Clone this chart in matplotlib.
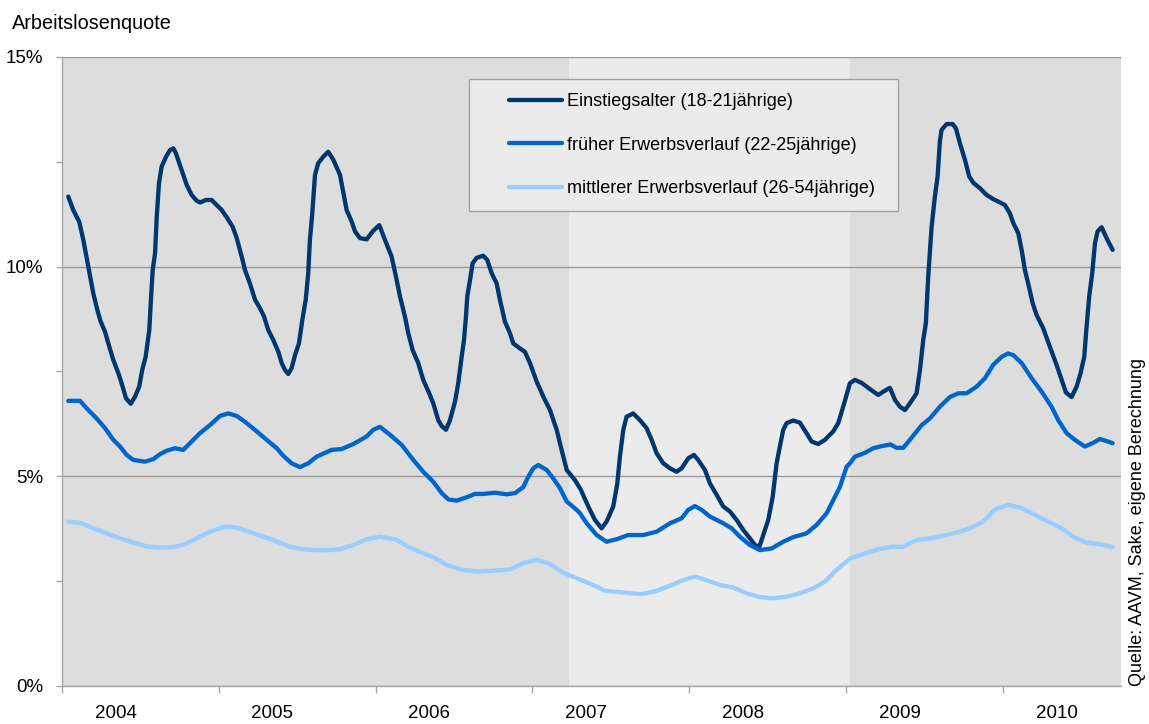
import matplotlib
matplotlib.use('Agg')
import matplotlib.pyplot as plt
from matplotlib.patches import Rectangle

plt.rcParams['font.family'] = ['Liberation Sans', 'DejaVu Sans']

# Zeitachse: Monate seit Januar 2004
jahre = ['2004', '2005', '2006', '2007', '2008', '2009', '2010']

# Einstiegsalter (18-21jährige)
monat_einstieg = [
    0.48, 0.86, 1.32, 1.63, 2.01, 2.39, 2.70, 2.96, 3.29, 3.62, 3.92, 4.31, 4.64, 4.90,
    5.26, 5.59, 5.91, 6.14, 6.40, 6.68, 6.79, 6.94, 7.12, 7.25, 7.42, 7.63, 7.96, 8.26,
    8.52, 8.72, 8.97, 9.28, 9.54, 9.92, 10.31, 10.56, 11.02, 11.45, 11.84, 12.22, 12.60,
    13.06, 13.37, 13.75, 14.00, 14.38, 14.77, 15.15, 15.46, 15.78, 16.17, 16.55, 16.81,
    17.06, 17.31, 17.57, 17.83, 18.13, 18.39, 18.65, 18.84, 18.97, 19.15, 19.36, 19.61,
    19.99, 20.37, 20.76, 21.27, 21.78, 22.17, 22.42, 22.80, 23.31, 23.77, 24.28, 24.71,
    25.22, 25.61, 25.86, 26.24, 26.50, 26.83, 27.26, 27.64, 28.10, 28.41, 28.79, 29.05,
    29.38, 29.69, 30.07, 30.32, 30.58, 30.76, 30.91, 31.01, 31.22, 31.42, 31.73, 32.23,
    32.54, 32.88, 33.26, 33.51, 33.89, 34.28, 34.53, 35.04, 35.42, 35.81, 36.32, 36.83,
    37.34, 37.85, 38.23, 38.62, 39.25, 39.70, 40.27, 40.78, 41.29, 41.67, 42.18, 42.49,
    42.69, 42.95, 43.20, 43.71, 44.22, 44.73, 45.12, 45.50, 46.01, 46.52, 47.03, 47.41,
    47.92, 48.36, 48.68, 49.20, 49.58, 50.09, 50.60, 51.11, 51.62, 52.13, 52.64, 53.03,
    53.36, 53.66, 54.04, 54.38, 54.68, 54.93, 55.19, 55.45, 55.95, 56.46, 56.97, 57.36,
    57.86, 58.38, 59.01, 59.40, 59.85, 60.29, 60.67, 61.18, 61.82, 62.46, 62.84, 63.35,
    63.74, 64.12, 64.50, 64.88, 65.39, 65.65, 65.90, 66.10, 66.28, 66.54, 66.79, 67.00,
    67.17, 67.30, 67.69, 68.15, 68.40, 68.71, 69.09, 69.42, 69.73, 70.24, 70.75, 71.26,
    71.72, 72.15, 72.53, 72.79, 73.17, 73.43, 73.68, 73.99, 74.27, 74.57, 75.08, 75.59,
    76.10, 76.49, 76.82, 77.25, 77.64, 77.94, 78.22, 78.40, 78.60, 78.83, 79.04, 79.24,
    79.55, 79.93, 80.39,
]
quote_einstieg = [
    11.67, 11.35, 11.07, 10.64, 10.00, 9.37, 8.97, 8.69, 8.45, 8.09, 7.78, 7.46, 7.14, 6.86,
    6.73, 6.90, 7.14, 7.54, 7.85, 8.49, 9.13, 9.92, 10.32, 11.19, 11.99, 12.39, 12.62, 12.78,
    12.82, 12.70, 12.47, 12.19, 11.95, 11.71, 11.57, 11.53, 11.59, 11.59, 11.47, 11.35, 11.18,
    10.95, 10.68, 10.24, 9.92, 9.60, 9.21, 9.01, 8.81, 8.49, 8.25, 7.97, 7.70,
    7.54, 7.44, 7.58, 7.89, 8.17, 8.73, 9.21, 9.84, 10.64, 11.27, 12.19, 12.47,
    12.62, 12.74, 12.55, 12.19, 11.35, 11.07, 10.84, 10.68, 10.65, 10.84, 10.99, 10.64,
    10.24, 9.68, 9.29, 8.81, 8.41, 8.01, 7.70, 7.30, 6.98, 6.74, 6.34, 6.20,
    6.11, 6.34, 6.78, 7.22, 7.85, 8.25, 8.81, 9.29, 9.68, 10.08, 10.21, 10.26,
    10.16, 9.84, 9.60, 9.21, 8.69, 8.41, 8.17, 8.05, 7.97, 7.70, 7.26, 6.90,
    6.58, 6.11, 5.63, 5.15, 4.91, 4.68, 4.28, 3.96, 3.76, 3.92, 4.28, 4.83,
    5.47, 6.11, 6.42, 6.50, 6.34, 6.15, 5.87, 5.55, 5.31, 5.19, 5.11, 5.19,
    5.43, 5.51, 5.39, 5.15, 4.83, 4.56, 4.28, 4.16, 3.96, 3.72, 3.52, 3.36,
    3.32, 3.60, 3.96, 4.51, 5.31, 5.71, 6.11, 6.27, 6.33, 6.28, 6.03, 5.83,
    5.77, 5.87, 6.07, 6.27, 6.74, 7.22, 7.30, 7.23, 7.08, 6.94, 7.02, 7.11,
    6.82, 6.66, 6.58, 6.74, 6.98, 7.54, 8.25, 8.65, 9.76, 10.95, 11.67, 12.15,
    12.98, 13.26, 13.40, 13.40, 13.30, 12.94, 12.55, 12.15, 12.00, 11.87, 11.71, 11.61,
    11.54, 11.47, 11.27, 11.04, 10.80, 10.40, 9.92, 9.52, 9.13, 8.85, 8.53, 8.09,
    7.66, 7.30, 7.00, 6.89, 7.14, 7.46, 7.85, 8.57, 9.29, 9.84, 10.56, 10.84,
    10.94, 10.68, 10.40,
]

# früher Erwerbsverlauf (22-25jährige)
monat_frueh = [
    0.48, 1.38, 1.89, 2.65, 3.29, 3.93, 4.44, 4.95, 5.46, 6.35, 6.99, 7.50, 8.01, 8.65,
    9.28, 9.92, 10.56, 11.32, 12.09, 12.72, 13.37, 14.13, 14.90, 15.66, 16.43, 16.93,
    17.57, 18.21, 18.84, 19.49, 20.63, 21.40, 22.29, 23.31, 23.82, 24.33, 25.10, 25.99,
    26.88, 27.64, 28.41, 29.05, 29.56, 30.20, 30.96, 31.60, 32.23, 33.13, 34.02, 34.66,
    35.29, 35.68, 36.06, 36.44, 37.09, 37.59, 38.10, 38.62, 39.38, 39.63, 40.15, 40.91,
    41.67, 42.44, 43.33, 44.48, 45.50, 46.52, 47.41, 47.92, 48.43, 48.94, 49.58, 50.60,
    51.24, 51.87, 52.64, 53.40, 54.30, 55.19, 55.95, 56.97, 57.74, 58.51, 59.14, 59.53,
    59.78, 60.04, 60.29, 60.67, 61.44, 62.07, 62.72, 63.40, 63.86, 64.37, 64.88, 65.78,
    66.41, 67.17, 67.94, 68.58, 69.22, 69.99, 70.62, 71.26, 71.90, 72.40, 72.79, 73.43,
    74.19, 74.96, 75.72, 76.23, 76.87, 77.50, 78.27, 78.91, 79.42, 79.93, 80.39,
]
quote_frueh = [
    6.80, 6.80, 6.62, 6.38, 6.15, 5.87, 5.71, 5.51, 5.39, 5.35, 5.41, 5.53, 5.61, 5.67,
    5.63, 5.83, 6.03, 6.22, 6.44, 6.50, 6.44, 6.27, 6.07, 5.87, 5.67, 5.49,
    5.31, 5.22, 5.31, 5.47, 5.63, 5.65, 5.77, 5.95, 6.11, 6.18, 5.99, 5.75,
    5.39, 5.11, 4.87, 4.60, 4.45, 4.42, 4.50, 4.58, 4.58, 4.61, 4.57, 4.60,
    4.74, 4.99, 5.19, 5.27, 5.15, 4.95, 4.72, 4.40, 4.20, 4.12, 3.88, 3.60,
    3.44, 3.50, 3.60, 3.60, 3.68, 3.88, 4.00, 4.20, 4.29, 4.20, 4.04, 3.88,
    3.76, 3.56, 3.36, 3.24, 3.28, 3.44, 3.55, 3.64, 3.84, 4.12, 4.51, 4.75,
    4.99, 5.23, 5.31, 5.47, 5.56, 5.67, 5.72, 5.76, 5.68, 5.68, 5.87, 6.22,
    6.38, 6.66, 6.89, 6.98, 6.98, 7.14, 7.34, 7.66, 7.85, 7.93, 7.89, 7.70,
    7.34, 7.02, 6.66, 6.34, 6.03, 5.87, 5.71, 5.80, 5.89, 5.84, 5.79,
]

# mittlerer Erwerbsverlauf (26-54jährige)
monat_mittel = [
    0.48, 1.51, 2.39, 3.42, 4.44, 5.46, 6.60, 7.50, 8.52, 9.41, 10.31, 11.32, 12.47,
    13.37, 14.64, 16.17, 17.44, 18.46, 19.49, 20.50, 21.27, 22.29, 23.31, 24.33, 25.48,
    26.50, 27.39, 28.41, 29.43, 30.45, 31.73, 33.00, 34.28, 35.29, 36.32, 37.34, 38.36,
    39.38, 40.65, 41.55, 42.95, 44.35, 45.50, 46.52, 47.41, 48.43, 49.45, 50.34, 51.36,
    52.39, 53.40, 54.42, 55.45, 56.46, 57.48, 58.38, 59.27, 60.35, 61.44, 62.46, 63.48,
    64.37, 65.39, 66.41, 67.43, 68.45, 69.47, 70.49, 71.38, 72.40, 73.43, 74.45, 75.47,
    76.49, 77.38, 78.40, 79.42, 80.39,
]
quote_mittel = [
    3.92, 3.88, 3.76, 3.64, 3.52, 3.42, 3.32, 3.30, 3.31, 3.38, 3.52, 3.68, 3.80,
    3.78, 3.64, 3.48, 3.32, 3.26, 3.24, 3.24, 3.26, 3.36, 3.50, 3.56, 3.50,
    3.32, 3.20, 3.07, 2.89, 2.78, 2.73, 2.75, 2.78, 2.93, 3.01, 2.91, 2.70,
    2.57, 2.41, 2.27, 2.23, 2.19, 2.27, 2.39, 2.51, 2.61, 2.51, 2.41, 2.35,
    2.21, 2.12, 2.09, 2.13, 2.21, 2.33, 2.49, 2.77, 3.05, 3.16, 3.26, 3.32,
    3.32, 3.48, 3.52, 3.58, 3.66, 3.76, 3.92, 4.21, 4.32, 4.24, 4.08, 3.92,
    3.76, 3.56, 3.42, 3.38, 3.31,
]

fig = plt.figure(figsize=(11.49, 7.24), dpi=100)
ax = fig.add_axes([0.05396, 0.0525, 0.9213, 0.8688])
ax.set_facecolor('#dddddd')
ax.axvspan(38.8, 60.3, color='#ebebeb', lw=0, zorder=0)

kw = dict(lw=3.1, solid_joinstyle='round', solid_capstyle='round', zorder=3)
ax.plot(monat_einstieg, quote_einstieg, color='#00386e', label='Einstiegsalter (18-21jährige)', **kw)
ax.plot(monat_frueh, quote_frueh, color='#0066cc', label='früher Erwerbsverlauf (22-25jährige)', **kw)
ax.plot(monat_mittel, quote_mittel, color='#99ccff', label='mittlerer Erwerbsverlauf (26-54jährige)', **kw)

ax.set_xlim(0, 81)
ax.set_ylim(0, 15)

ax.set_xticks([12 * i for i in range(len(jahre))])
ax.set_xticklabels([])
ax.set_xticks([12 * i + 4.1 for i in range(len(jahre))], minor=True)
ax.set_xticklabels(jahre, minor=True)
ax.tick_params(axis='x', which='major', length=5, width=1, color='#a6a6a6')
ax.tick_params(axis='x', which='minor', length=0, pad=14, labelsize=13.5)

ax.set_yticks([0, 5, 10, 15])
ax.set_yticklabels(['0%', '5%', '10%', '15%'])
ax.set_yticks([2.5, 7.5, 12.5], minor=True)
ax.tick_params(axis='y', which='both', length=4.5, width=1, color='#a6a6a6', pad=9, labelsize=13.5)

ax.set_axisbelow(True)
ax.yaxis.grid(True, which='major', color='#9a9a9a', lw=1)
for side in ['top', 'right']:
    ax.spines[side].set_visible(False)
for side in ['left', 'bottom']:
    ax.spines[side].set_color('#a6a6a6')
    ax.spines[side].set_linewidth(1)

box = Rectangle((0.3845, 0.755), 0.4053, 0.21, transform=ax.transAxes,
                facecolor='#ebebeb', edgecolor='#a0a0a0', lw=1, zorder=4)
ax.add_patch(box)
leg = ax.legend(loc='upper left', bbox_to_anchor=(0.4225, 0.942), frameon=False,
                borderpad=0, borderaxespad=0, handlelength=2.9, handletextpad=0.3,
                labelspacing=1.45, fontsize=13)
leg.set_zorder(5)

fig.text(12 / 1149, 695 / 724, 'Arbeitslosenquote', fontsize=14.3, ha='left', va='baseline')
fig.text(1137 / 1149, 38 / 724, 'Quelle: AAVM, Sake, eigene Berechnung', fontsize=13,
         rotation=90, ha='center', va='bottom')

fig.savefig('out.png', dpi=100)
